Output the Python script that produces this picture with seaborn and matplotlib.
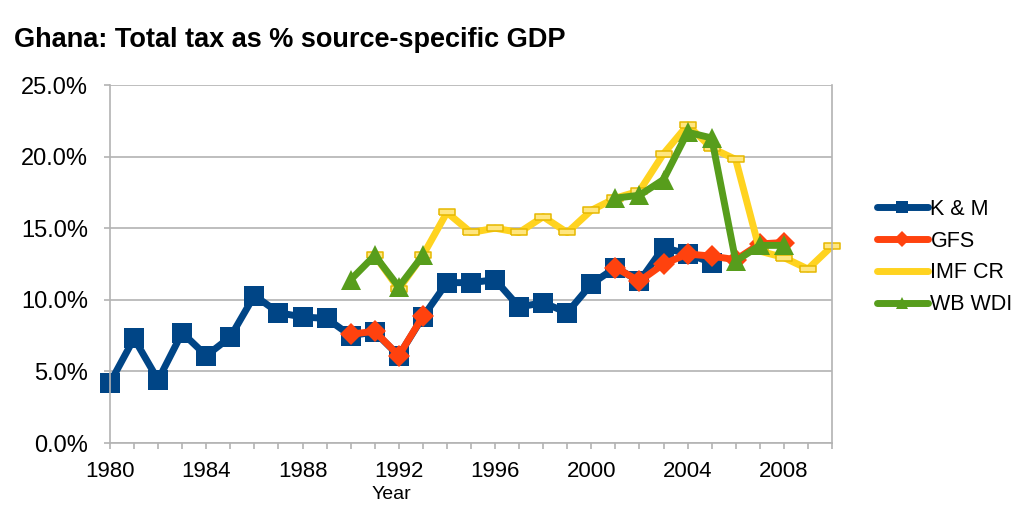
import numpy as np
import pandas as pd
import seaborn as sns
import matplotlib
matplotlib.use("Agg")
import matplotlib.pyplot as plt
from matplotlib.lines import Line2D
from matplotlib.ticker import MultipleLocator, FuncFormatter

sns.set_theme(style="white")
plt.rcParams['font.family'] = ['Liberation Sans', 'DejaVu Sans']
plt.rcParams['text.color'] = 'black'

years = list(range(1980, 2011))
nan = np.nan

km = [4.2, 7.3, 4.4, 7.7, 6.1, 7.4, 10.3, 9.1, 8.8, 8.7,
      7.5, 7.75, 6.1, 8.8, 11.2, 11.2, 11.4, 9.5, 9.8, 9.1,
      11.1, 12.25, 11.3, 13.65, 13.2, 12.6, nan, nan, nan, nan, nan]
gfs = [nan] * 10 + [7.6, 7.8, 6.1, 8.85, nan, nan, nan, nan, nan, nan,
      nan, 12.25, 11.3, 12.5, 13.2, 13.05, 12.8, 13.9, 14.0, nan, nan]
imf = [nan] * 11 + [13.1, 10.75, 13.1, 16.1, 14.7, 15.0, 14.7, 15.8, 14.7,
      16.25, 17.1, 17.6, 20.2, 22.2, 20.6, 19.8, 13.4, 12.95, 12.15, 13.75]
wdi = [nan] * 10 + [11.4, 13.1, 10.9, 13.1, nan, nan, nan, nan, nan, nan,
      nan, 17.1, 17.3, 18.4, 21.7, 21.3, 12.7, 13.8, 13.8, nan, nan]

series_names = ["K & M", "GFS", "IMF CR", "WB WDI"]
series_vals = [km, gfs, imf, wdi]
colors = ["#004586", "#ff420e", "#ffd320", "#579d1c"]

rect = [(-2.2, -0.9), (2.2, -0.9), (2.2, 0.9), (-2.2, 0.9), (-2.2, -0.9)]
styles = [
    dict(marker="s", markersize=14, markeredgewidth=0),
    dict(marker="D", markersize=11, markeredgewidth=0),
    dict(marker=rect, markersize=12, markeredgewidth=1.1, markeredgecolor="#e6b800", markerfacecolor="#ffe680"),
    dict(marker="^", markersize=15, markeredgewidth=0),
]

fig = plt.figure(figsize=(10.24, 5.11), dpi=100)
ax = fig.add_axes([110 / 1024, 1 - 443 / 511, (832 - 110) / 1024, (443 - 85) / 511])

for name, vals, col, st in zip(series_names, series_vals, colors, styles):
    df = pd.DataFrame({"Year": years, "val": vals})
    df["seg"] = df["val"].isna().cumsum()
    df = df.dropna()
    sns.lineplot(data=df, x="Year", y="val", units="seg", estimator=None,
                 color=col, linewidth=5, ax=ax, legend=False, clip_on=False, **st)

ax.set_xlim(1980, 2010)
ax.set_ylim(0, 25)
ax.xaxis.set_major_locator(MultipleLocator(4))
ax.xaxis.set_minor_locator(MultipleLocator(1))
ax.yaxis.set_major_locator(MultipleLocator(5))
ax.yaxis.set_major_formatter(FuncFormatter(lambda v, p: f"{v:.1f}%"))
ax.grid(axis="y", color="#b3b3b3", linewidth=1.2)
ax.set_axisbelow(True)
for s in ["left", "bottom", "right"]:
    ax.spines[s].set_color("#b3b3b3")
    ax.spines[s].set_linewidth(1.2)
ax.spines["top"].set_visible(False)
ax.tick_params(axis="both", which="both", direction="out", color="#b3b3b3",
               width=1.2, labelcolor="black")
ax.tick_params(axis="x", which="both", length=4, bottom=True, pad=9, labelsize=16)
ax.tick_params(axis="y", which="major", length=4, left=True, pad=12, labelsize=17)
ax.set_ylabel("")
ax.set_xlabel("Year", fontsize=14, color="black")
ax.xaxis.set_label_coords(0.39, -0.12)

handles = []
for col, name in zip(colors, series_names):
    if name == "IMF CR":
        h = Line2D([], [], color=col, linewidth=5)
    else:
        mk = {"K & M": "s", "GFS": "D", "WB WDI": "^"}[name]
        h = Line2D([], [], color=col, linewidth=5, marker=mk, markersize=8, markeredgewidth=0)
    handles.append(h)
fig.legend(handles, series_names, loc="center left", bbox_to_anchor=(868 / 1024, 1 - 257 / 511),
           frameon=False, fontsize=15.5, handlelength=2.4, handletextpad=0.1,
           labelspacing=0.5, borderaxespad=0)

fig.text(14 / 1024, 1 - 40 / 511, "Ghana: Total tax as % source-specific GDP",
         fontsize=19.5, fontweight="bold", ha="left", va="center", color="black")

fig.savefig("out.png", dpi=100)
